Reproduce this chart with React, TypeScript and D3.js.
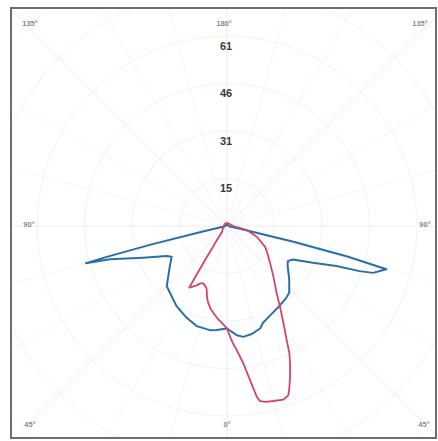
import React from "react";
import * as d3 from "d3";

// Angles in degrees: 0 = straight down, positive toward the right, ±180 = up
const blueAngles = [-180, -135, -90, -80, -77, -76.3, -75.6, -75.2, -74.1, -69.3, -63.5, -61.0, -54.9, -45.1, -40.5, -32.2, -23.7, -16.9, -9.3, -5.7, 0, 5.1, 8.4, 12.9, 17.9, 20.3, 25.2, 31.8, 39.5, 43.0, 49.4, 56.6, 60.0, 63.1, 66.8, 69.9, 71.2, 72.2, 74.8, 75.8, 76.6, 77.3, 80, 90, 135];
const blueValues = [0.4, 0.4, 0.5, 1, 8, 25, 40, 47.0, 39.2, 28.9, 21.7, 20.4, 22.5, 27.4, 28.3, 30.5, 32.3, 33.7, 34.0, 33.7, 33.0, 35.3, 36.1, 35.7, 34.7, 33.3, 32.1, 31.0, 30.0, 29.4, 26.4, 23.4, 22.6, 23.8, 30.1, 37.5, 45.1, 49.4, 53.2, 40, 22, 6, 1, 0.5, 0.4];

const redAngles = [-180, -135, -90, -60, -40, -36, -34, -33, -32.3, -31.8, -31.5, -29.5, -27, -25, -22.5, -20, -17.8, -15.5, -13.7, -11.5, -9, -6.5, -4.2, -2, 0, 1.6, 3, 4.5, 6.8, 8.5, 9.9, 10.7, 12.5, 14.8, 18, 19.9, 21, 22.7, 24.5, 26.1, 27.6, 30.1, 33.3, 36.4, 42.4, 49.1, 55, 61.4, 70.2, 78.5, 90, 135];
const redValues = [1, 1, 1, 1.5, 2.5, 5.2, 8, 12, 16, 20, 23.3, 22.4, 21.5, 20.4, 20, 20.5, 21.4, 24, 25.5, 27, 28.3, 29.6, 30.7, 31.8, 33, 35.7, 38, 40.1, 44.6, 50.2, 55.9, 57.4, 58, 58.3, 58.8, 58, 56, 52.7, 49, 45.7, 41.5, 36.3, 31.1, 27, 22.2, 18.4, 16, 14, 10.2, 6.5, 2, 1];

const ringValues = [15.3, 30.6, 45.9, 61.2, 76.5, 91.8];
const ringLabels = ["15", "31", "46", "61"];

const W = 438;
const H = 441;
const cx = 227;
const cy = 226;
const frame = { x: 11, y: 8, w: 425, h: 430 };

export default function App() {
  const r = d3.scaleLinear().domain([0, 61.2]).range([0, 190]);
  const toRad = (deg: number) => ((180 - deg) * Math.PI) / 180;

  const makePath = (angles: number[], values: number[]) =>
    d3
      .lineRadial<number>()
      .angle((_, i) => toRad(angles[i]))
      .radius((_, i) => r(values[i]))
      .curve(d3.curveLinearClosed)(values.map((_, i) => i)) || "";

  const spokes = d3.range(0, 360, 15);
  const degFont = "'Liberation Sans', Arial, sans-serif";

  const cornerLabels = [
    { t: "135°", x: 30, y: 24 },
    { t: "180°", x: 224, y: 24 },
    { t: "135°", x: 420, y: 24 },
    { t: "90°", x: 29, y: 225 },
    { t: "90°", x: 425, y: 225 },
    { t: "45°", x: 30, y: 425 },
    { t: "0°", x: 227, y: 425 },
    { t: "45°", x: 424, y: 425 },
  ];

  return (
    <svg width={W} height={H} style={{ position: "absolute", left: 0, top: 0, background: "#fff" }}>
      <defs>
        <clipPath id="frameClip">
          <rect x={frame.x} y={frame.y} width={frame.w} height={frame.h} />
        </clipPath>
      </defs>
      <rect x={0} y={0} width={W} height={H} fill="#fff" />
      <g clipPath="url(#frameClip)">
        {spokes.map((a) => {
          const rad = toRad(a);
          const len = 400;
          return (
            <line
              key={a}
              x1={cx}
              y1={cy}
              x2={cx + len * Math.sin(rad)}
              y2={cy - len * Math.cos(rad)}
              stroke={a % 45 === 0 ? "#ebebeb" : "#f5f5f5"}
              strokeWidth={1}
            />
          );
        })}
        {ringValues.map((v) => (
          <circle key={v} cx={cx} cy={cy} r={r(v)} fill="none" stroke="#f3f3f3" strokeWidth={1} />
        ))}
      </g>
      <path d={makePath(blueAngles, blueValues)} transform={`translate(${cx},${cy})`} fill="none" stroke="#2a6fa6" strokeWidth={2} strokeLinejoin="round" />
      <path d={makePath(redAngles, redValues)} transform={`translate(${cx},${cy})`} fill="none" stroke="#d2456a" strokeWidth={1.8} strokeLinejoin="round" />
      {ringLabels.map((t, i) => (
        <text
          key={t}
          x={cx - 1}
          y={cy - r(ringValues[i]) + 11}
          textAnchor="middle"
          dominantBaseline="middle"
          fontFamily={degFont}
          fontWeight="bold"
          fontSize={11}
          fill="#3a3a3a"
        >
          {t}
        </text>
      ))}
      {cornerLabels.map((l, i) => (
        <text
          key={i}
          x={l.x}
          y={l.y}
          textAnchor="middle"
          dominantBaseline="middle"
          fontFamily={degFont}
          fontSize={7.5}
          fontWeight="bold"
          fill="#8a8a8a"
        >
          {l.t}
        </text>
      ))}
      <rect x={frame.x} y={frame.y} width={frame.w} height={frame.h} fill="none" stroke="#6e6e6e" strokeWidth={2} />
    </svg>
  );
}
